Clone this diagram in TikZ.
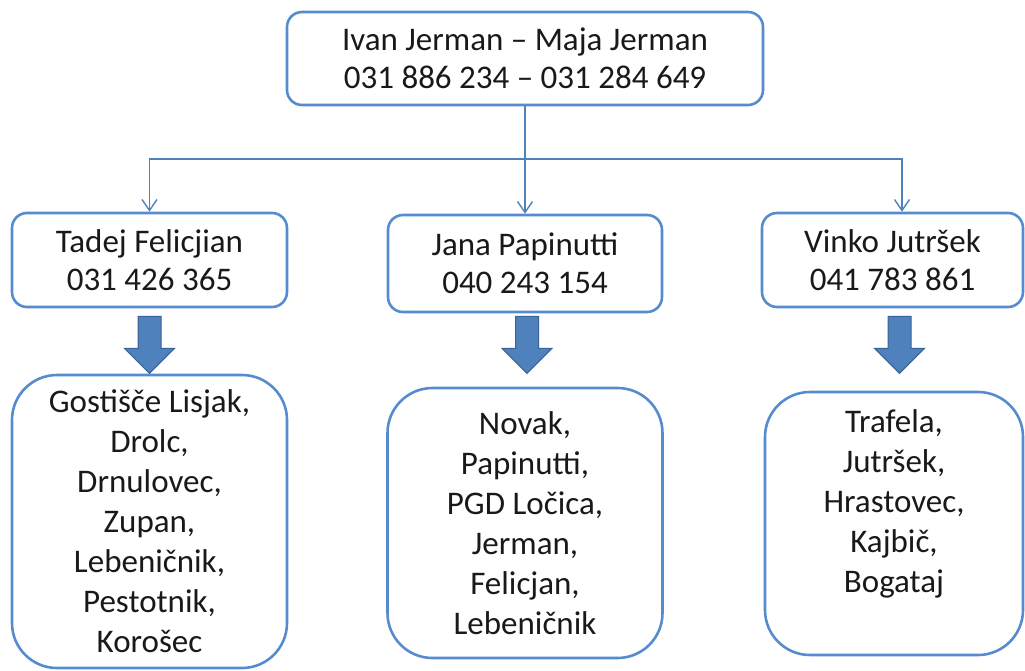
\documentclass[tikz,border=0pt]{standalone}
\usepackage{fontspec}
\setmainfont{Carlito}
\usetikzlibrary{arrows.meta}
\definecolor{boxblue}{RGB}{86,140,206}
\definecolor{linkblue}{RGB}{79,129,189}
\definecolor{arrowfill}{RGB}{79,129,189}
\definecolor{arrowedge}{RGB}{58,98,150}
\begin{document}
\begin{tikzpicture}[x=1pt,y=-1pt,
  every node/.style={font=\fontsize{33}{38}\selectfont, align=center, text=black!90},
  namebox/.style={draw=boxblue, line width=2.6pt, rounded corners=15pt, inner sep=0pt},
  listbox/.style={draw=boxblue, line width=2.6pt, rounded corners=45pt, inner sep=0pt, font=\fontsize{33}{40}\selectfont},
  link/.style={draw=linkblue, line width=1.4pt},
  linkarrow/.style={link, -{Straight Barb[length=11pt,width=15pt]}},
  bigarrow/.style={fill=arrowfill, draw=arrowedge, line width=1pt}]
\useasboundingbox (0,0) rectangle (1025,670);
% top box
\node[namebox, minimum width=476pt, minimum height=93pt] (jerman) at (525,58.5) {Ivan Jerman – Maja Jerman\\031 886 234 – 031 284 649};
% second row
\node[namebox, minimum width=275pt, minimum height=94pt] (tadej) at (149.5,260) {Tadej Felicjian\\031 426 365};
\node[namebox, minimum width=274pt, minimum height=97pt] (jana) at (525,263.5) {Jana Papinutti\\040 243 154};
\node[namebox, minimum width=261pt, minimum height=94pt] (vinko) at (892.5,260) {Vinko Jutršek\\041 783 861};
% lists
\node[listbox, minimum width=275pt, minimum height=293pt] (tadejlist) at (149.5,521.5) {Gostišče Lisjak,\\Drolc,\\Drnulovec,\\Zupan,\\Lebeničnik,\\Pestotnik,\\Korošec};
\node[listbox, minimum width=275pt, minimum height=270pt] (janalist) at (525,523) {Novak,\\Papinutti,\\PGD Ločica,\\Jerman,\\Felicjan,\\Lebeničnik};
\node[listbox, minimum width=258pt, minimum height=263pt, text depth=45pt] (vinkolist) at (894,523.5) {Trafela,\\Jutršek,\\Hrastovec,\\Kajbič,\\Bogataj};
% thin connectors
\coordinate (split) at (525,159);
\draw[link] (jerman.south) -- (split);
\draw[linkarrow] (split) -| (tadej.north);
\draw[linkarrow] (split) -- (jana.north);
\draw[linkarrow] (split) -| ([xshift=9.5pt]vinko.north);
% block arrows
\foreach \src/\dx/\dy in {tadej/0/8,jana/2/3,vinko/7/8}
  \draw[bigarrow] (\src.south) ++(\dx-11.5,\dy) -- ++(23,0) -- ++(0,32) -- ++(13.5,0) -- ++(-25,25) -- ++(-25,-25) -- ++(13.5,0) -- cycle;
\end{tikzpicture}
\end{document}
